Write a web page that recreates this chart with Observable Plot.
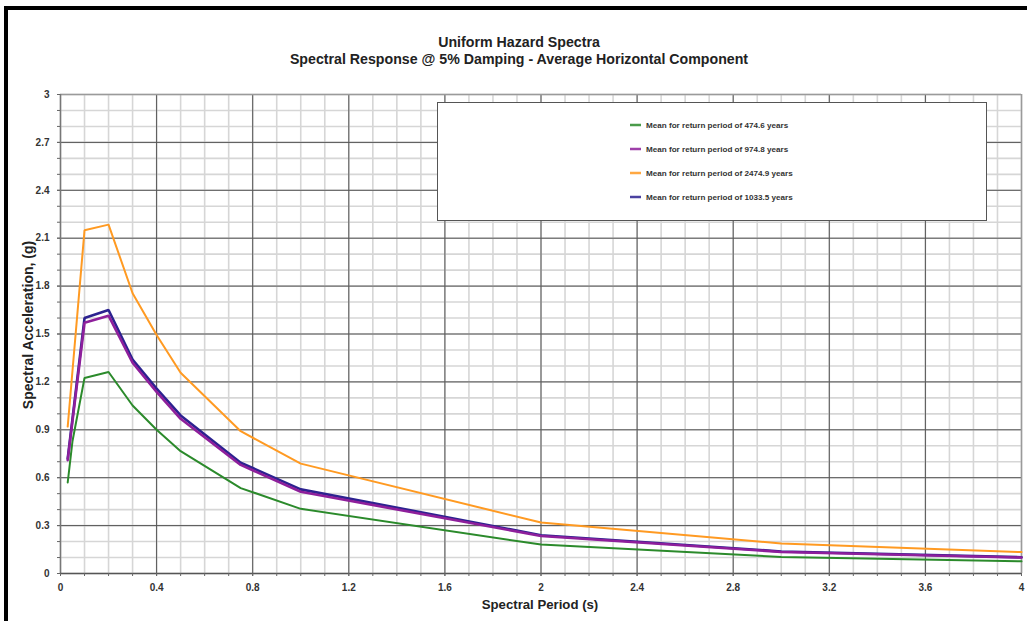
<!DOCTYPE html>
<html>
<head>
<meta charset="utf-8">
<script src="https://cdn.jsdelivr.net/npm/d3@7"></script>
<script src="https://cdn.jsdelivr.net/npm/@observablehq/plot@0.6"></script>
<style>
  body { margin: 0; background: #fff; }
  #chart { position: relative; width: 1027px; height: 621px; overflow: hidden; }
  #chart svg { font-family: "Liberation Sans", Arial, sans-serif; }
</style>
</head>
<body>
<div id="chart"></div>
<script>
// Spectral periods (s) at which each spectrum is given
const periodsA = [0.03, 0.05, 0.1, 0.2, 0.3, 0.4, 0.5, 0.75, 1.0, 2.0, 3.0, 4.0];
const periodsB = [0.03, 0.1, 0.2, 0.3, 0.4, 0.5, 0.75, 1.0, 2.0, 3.0, 4.0];

// Mean spectral acceleration (g) for each return period
const sa474 = [0.57, 0.83, 1.225, 1.262, 1.052, 0.90, 0.766, 0.535, 0.405, 0.181, 0.104, 0.076];
const sa975 = [0.71, 1.57, 1.615, 1.32, 1.137, 0.969, 0.68, 0.512, 0.235, 0.135, 0.100];
const sa2475 = [0.92, 2.15, 2.185, 1.755, 1.494, 1.257, 0.891, 0.688, 0.319, 0.188, 0.134];
const sa1033 = [0.72, 1.60, 1.65, 1.34, 1.158, 0.99, 0.694, 0.527, 0.24, 0.138, 0.102];

const seriesNames = [
  "Mean for return period of 474.6 years",
  "Mean for return period of 974.8 years",
  "Mean for return period of 2474.9 years",
  "Mean for return period of 1033.5 years"
];
const seriesColors = ["#2b8a2b", "#8e1f9b", "#ff9a22", "#2c2290"];

// Axis ticks
const xTicks = [0, 0.4, 0.8, 1.2, 1.6, 2, 2.4, 2.8, 3.2, 3.6, 4];
const xTickLabels = ["0", "0.4", "0.8", "1.2", "1.6", "2", "2.4", "2.8", "3.2", "3.6", "4"];
const yTicks = [0, 0.3, 0.6, 0.9, 1.2, 1.5, 1.8, 2.1, 2.4, 2.7, 3];
const yTickLabels = ["0", "0.3", "0.6", "0.9", "1.2", "1.5", "1.8", "2.1", "2.4", "2.7", "3"];
const xMinor = d3.range(0, 4.0001, 0.1).map(v => +v.toFixed(2));
const yMinor = d3.range(0, 3.0001, 0.1).map(v => +v.toFixed(2));

const rows = (ps, vs, k) => ps.map((p, i) => ({period: p, sa: vs[i], key: k}));
const data474 = rows(periodsA, sa474, 0);
const data975 = rows(periodsB, sa975, 1);
const data2475 = rows(periodsB, sa2475, 2);
const data1033 = rows(periodsB, sa1033, 3);

const W = 1027, H = 621;
const mTop = 94, mLeft = 60, mRight = 6, mBottom = 48;

const lineOf = (d, k, w) => Plot.line(d, {x: "period", y: "sa", stroke: seriesColors[k], strokeWidth: w, strokeLinejoin: "miter"});

const plot = Plot.plot({
  width: W,
  height: H,
  marginTop: mTop,
  marginLeft: mLeft,
  marginRight: mRight,
  marginBottom: mBottom,
  x: {domain: [0, 4], label: null},
  y: {domain: [0, 3], label: null},
  style: {fontFamily: "'Liberation Sans', Arial, sans-serif", background: "transparent"},
  marks: [
    // fine grid every 0.1
    Plot.ruleX(xMinor, {stroke: "#d6d6d6", strokeWidth: 1.6}),
    Plot.ruleY(yMinor, {stroke: "#d6d6d6", strokeWidth: 1.6}),
    // main grid
    Plot.ruleX(xTicks.filter(v => v > 0 && v < 4), {stroke: "#555", strokeWidth: 1}),
    Plot.ruleY(yTicks.filter(v => v > 0 && v < 3), {stroke: "#555", strokeWidth: 1}),
    // plot edges
    Plot.ruleX([4], {stroke: "#9a9a9a", strokeWidth: 1.5}),
    Plot.ruleY([3], {stroke: "#9a9a9a", strokeWidth: 1.5}),
    Plot.ruleX([0], {stroke: "#777", strokeWidth: 1.5}),
    Plot.ruleY([0], {stroke: "#555", strokeWidth: 1.5}),
    // small tick marks
    Plot.axisX(xMinor, {tickSize: 3, stroke: "#666", tickFormat: () => "", label: null}),
    Plot.axisY(yMinor, {tickSize: 3, stroke: "#666", tickFormat: () => "", label: null}),
    Plot.axisX(xTicks, {tickSize: 3, tickPadding: 7, stroke: "#666", fill: "#333", fontSize: 10, fontWeight: "bold",
      tickFormat: (d, i) => xTickLabels[i], label: null}),
    Plot.axisY(yTicks, {tickSize: 3, tickPadding: 8, stroke: "#666", fill: "#333", fontSize: 10, fontWeight: "bold",
      tickFormat: (d, i) => yTickLabels[i], label: null}),
    // spectra
    lineOf(data474, 0, 2),
    lineOf(data2475, 2, 2),
    lineOf(data1033, 3, 2.6),
    lineOf(data975, 1, 2.6)
  ]
});

const svg = d3.select(plot);
svg.style("position", "absolute").style("left", "0px").style("top", "0px");

// outer frame
svg.append("rect").attr("x", 4).attr("y", 6).attr("width", W).attr("height", 4).attr("fill", "#000");
svg.append("rect").attr("x", 4).attr("y", 6).attr("width", 4).attr("height", H).attr("fill", "#000");

// titles
svg.append("text").attr("x", 519).attr("y", 47).attr("text-anchor", "middle")
  .attr("font-size", 14.2).attr("font-weight", "bold").attr("fill", "#222")
  .text("Uniform Hazard Spectra");
svg.append("text").attr("x", 519).attr("y", 64).attr("text-anchor", "middle")
  .attr("font-size", 14.2).attr("font-weight", "bold").attr("fill", "#222")
  .text("Spectral Response @ 5% Damping - Average Horizontal Component");

// axis titles
svg.append("text").attr("x", 540).attr("y", 609).attr("text-anchor", "middle")
  .attr("font-size", 13.2).attr("font-weight", "bold").attr("fill", "#222")
  .text("Spectral Period (s)");
svg.append("text").attr("transform", "translate(33,325) rotate(-90)").attr("text-anchor", "middle")
  .attr("font-size", 14).attr("font-weight", "bold").attr("fill", "#222")
  .text("Spectral Acceleration, (g)");

// legend box
const lg = svg.append("g").attr("text-anchor", "start");
lg.append("rect").attr("x", 437.5).attr("y", 102.5).attr("width", 549).attr("height", 118)
  .attr("fill", "#fff").attr("stroke", "#555").attr("stroke-width", 1);
const rowsY = [125, 149, 173, 197];
seriesNames.forEach((name, i) => {
  lg.append("line").attr("x1", 630).attr("x2", 641).attr("y1", rowsY[i]).attr("y2", rowsY[i])
    .attr("stroke", seriesColors[i]).attr("stroke-width", 2.5).attr("opacity", 0.85);
  lg.append("text").attr("x", 646).attr("y", rowsY[i] + 3).attr("font-size", 8.1)
    .attr("text-anchor", "start")
    .attr("font-weight", "bold").attr("fill", "#333").text(name);
});

document.getElementById("chart").appendChild(plot);
</script>
</body>
</html>
